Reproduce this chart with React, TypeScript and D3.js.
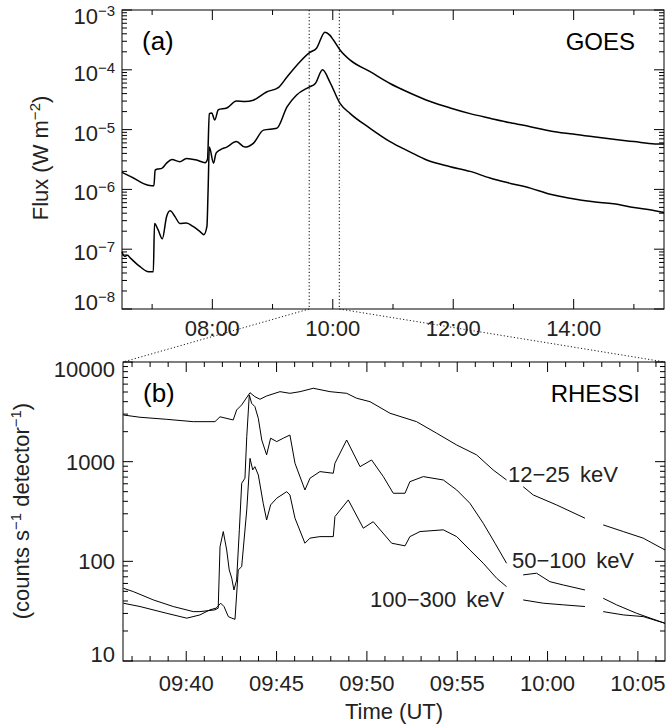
import React from "react";
import * as d3 from "d3";

// GOES 1-8 A (upper) : [hour UT, flux W m^-2]
const goesLong: [number, number][] = [
  [6.5, 1.93e-6], [6.69, 1.55e-6], [6.85, 1.26e-6], [6.99, 1.15e-6], [7.03, 1.15e-6],
  [7.05, 2.1e-6], [7.1, 2.2e-6], [7.16, 2.25e-6], [7.24, 2.75e-6], [7.33, 3.15e-6],
  [7.46, 2.9e-6], [7.57, 3.3e-6], [7.74, 3.1e-6], [7.88, 2.8e-6], [7.92, 3.2e-6],
  [7.95, 1.85e-5], [7.99, 1.9e-5], [8.04, 1.45e-5], [8.1, 2.15e-5], [8.24, 2.3e-5],
  [8.4, 3.0e-5], [8.54, 2.95e-5], [8.68, 3.1e-5], [8.9, 4.25e-5], [9.1, 5.1e-5],
  [9.24, 7.6e-5], [9.46, 1.38e-4], [9.62, 1.95e-4], [9.73, 2.3e-4], [9.87, 4.25e-4],
  [9.95, 3.8e-4], [10.01, 3.15e-4], [10.12, 2.15e-4], [10.29, 1.45e-4], [10.62, 9.3e-5],
  [10.95, 5.9e-5], [11.28, 4.1e-5], [11.62, 2.95e-5], [11.95, 2.3e-5], [12.28, 1.85e-5],
  [12.61, 1.55e-5], [12.95, 1.3e-5], [13.28, 1.12e-5], [13.61, 9.5e-6], [13.94, 8.5e-6],
  [14.33, 7.6e-6], [14.66, 6.9e-6], [15.0, 6.3e-6], [15.35, 5.75e-6], [15.5, 5.75e-6],
];

// GOES 0.5-4 A (lower)
const goesShort: [number, number][] = [
  [6.5, 9.1e-8], [6.54, 7.6e-8], [6.59, 7.9e-8], [6.64, 7.1e-8], [6.8, 5.1e-8],
  [6.94, 4.2e-8], [7.02, 4.2e-8], [7.04, 2.7e-7], [7.1, 2.1e-7], [7.17, 1.5e-7],
  [7.24, 3.5e-7], [7.3, 4.4e-7], [7.38, 3.5e-7], [7.46, 2.7e-7], [7.57, 2.75e-7],
  [7.68, 2.4e-7], [7.8, 1.95e-7], [7.86, 1.75e-7], [7.91, 2.4e-7], [7.93, 1.0e-6],
  [7.95, 5.1e-6], [8.02, 2.75e-6], [8.06, 4.0e-6], [8.13, 4.6e-6], [8.24, 5.1e-6],
  [8.4, 6.3e-6], [8.54, 5.1e-6], [8.68, 5.9e-6], [8.85, 9.8e-6], [9.07, 1.05e-5],
  [9.24, 2.4e-5], [9.4, 3.8e-5], [9.6, 5.1e-5], [9.71, 5.9e-5], [9.83, 1.0e-4],
  [9.95, 6.3e-5], [10.12, 2.75e-5], [10.29, 1.85e-5], [10.62, 1.05e-5], [10.95, 6.3e-6],
  [11.28, 4.25e-6], [11.56, 3.1e-6], [11.95, 2.4e-6], [12.28, 2.0e-6], [12.61, 1.55e-6],
  [12.95, 1.26e-6], [13.28, 1.05e-6], [13.61, 8.3e-7], [13.94, 7.1e-7], [14.33, 6.2e-7],
  [14.66, 5.75e-7], [15.0, 5.0e-7], [15.35, 4.4e-7], [15.5, 4.1e-7],
];

// RHESSI : [minutes after 09:00 UT, counts s^-1 detector^-1], null = data gap
const rhessiLow: [number, number | null][] = [
  [36.52, 2940], [37.44, 2790], [38.92, 2660], [40.39, 2520], [41.59, 2520],
  [41.87, 2820], [42.6, 2620], [42.79, 3300], [43.07, 3710], [43.53, 4920],
  [43.8, 4490], [44.08, 4230], [44.45, 4560], [45.19, 5040], [45.74, 4850],
  [46.3, 5040], [47.03, 5450], [47.96, 5040], [48.88, 4850], [49.43, 4330],
  [50.17, 4000], [51.28, 3060], [52.75, 2520], [53.86, 1930], [54.97, 1470],
  [56.07, 1170], [56.99, 826], [57.73, 655], [58.2, null],
  [58.65, 561], [59.21, 463], [60.5, 368], [62.07, 271], [62.6, null],
  [63.08, 232], [64.19, 199], [65.29, 171], [66.5, 130],
];

const rhessiMid: [number, number | null][] = [
  [36.52, 53.7], [37.07, 49.7], [38.18, 41.0], [39.28, 35.2], [40.39, 31.3],
  [40.76, 31.3], [41.59, 32.6], [41.77, 33.9], [41.87, 140], [42.05, 199],
  [42.24, 130], [42.38, 82], [42.52, 67.7], [42.64, 51.6], [42.79, 65],
  [42.94, 207], [43.07, 607], [43.25, 682], [43.35, 1780], [43.49, 4670],
  [43.62, 3850], [43.8, 3570], [43.99, 2720], [44.18, 1650], [44.45, 1170],
  [44.67, 1720], [45.01, 1590], [45.37, 1720], [45.74, 1850], [46.02, 964],
  [46.57, 520], [46.85, 682], [47.4, 795], [48.14, 765], [48.23, 964],
  [48.88, 1650], [49.62, 891], [50.26, 1040], [50.91, 708], [51.46, 482],
  [52.11, 482], [52.38, 630], [53.12, 708], [54.23, 655], [54.97, 520],
  [55.7, 383], [56.44, 241], [57.09, 152], [57.73, 95.7], [58.2, null],
  [58.65, 73.1], [59.39, 76.0], [60.13, 62.5], [60.87, 57.9], [62.07, 51.6], [62.6, null],
  [63.08, 42.6], [63.82, 36.6], [64.93, 30.1], [66.5, 23.9],
];

const rhessiHigh: [number, number | null][] = [
  [36.52, 38.0], [37.44, 35.2], [38.92, 30.1], [40.03, 26.9], [40.76, 29.0],
  [41.31, 32.6], [41.65, 33.9], [41.91, 38.0], [42.09, 35.2], [42.33, 27.9],
  [42.52, 26.9], [42.7, 26.2], [42.88, 82], [43.07, 88.5], [43.35, 328],
  [43.53, 1080], [43.68, 826], [43.8, 891], [43.99, 736], [44.26, 383],
  [44.45, 260], [44.67, 368], [45.01, 430], [45.56, 500], [45.74, 463],
  [46.02, 271], [46.57, 152], [46.85, 171], [47.4, 177], [48.14, 177],
  [48.23, 281], [48.97, 413], [49.8, 215], [50.35, 250], [51.37, 152],
  [52.11, 143], [52.38, 177], [52.94, 199], [54.23, 207], [54.97, 177],
  [55.7, 130], [56.44, 95.7], [57.18, 67.7], [57.73, 55.7], [58.2, null],
  [58.65, 41.0], [59.76, 38.0], [60.87, 36.6], [62.07, 35.2], [62.6, null],
  [63.08, 31.3], [64.19, 29.0], [65.29, 27.9], [66.5, 23.9],
];

const goesHourTicks = [7, 8, 9, 10, 11, 12, 13, 14, 15];
const goesHourLabels = ["08:00", "10:00", "12:00", "14:00"];
const goesDecades = [-8, -7, -6, -5, -4, -3];
const rhessiMinuteLabels = ["09:40", "09:45", "09:50", "09:55", "10:00", "10:05"];
const rhessiDecades = ["10", "100", "1000", "10000"];
const zoomWindow = [36.5, 66.5]; // minutes after 09:00 shown in panel (b)

const bandLabels = [
  { text: "12\u221225 keV", x: 508, y: 482 },
  { text: "50\u2212100 keV", x: 512, y: 568 },
  { text: "100\u2212300 keV", x: 370, y: 607 },
];

const FONT = "'Liberation Sans', Arial, Helvetica, sans-serif";
const INK = "#222";

function hm(s: string) {
  const [h, m] = s.split(":").map(Number);
  return h + m / 60;
}

export default function App() {
  const W = 668, H = 726;
  const A = { l: 122, r: 664, t: 10, b: 309 };
  const B = { l: 123, r: 665, t: 362, b: 661 };

  const xa = d3.scaleLinear().domain([6.5, 15.5]).range([A.l, A.r]);
  const ya = d3.scaleLog().domain([1e-8, 1e-3]).range([A.b, A.t]);
  const xb = d3.scaleLinear().domain(zoomWindow).range([B.l, B.r]);
  const yb = d3.scaleLog().domain([10, 10000]).range([B.b, B.t]);

  const lineA = d3.line<[number, number]>()
    .x(d => xa(d[0])).y(d => ya(d[1]))
    .curve(d3.curveMonotoneX);
  const lineB = d3.line<[number, number | null]>()
    .defined(d => d[1] != null)
    .x(d => xb(d[0])).y(d => yb(d[1] as number));

  const ticks: JSX.Element[] = [];
  const tk = (k: string, x1: number, y1: number, x2: number, y2: number) =>
    ticks.push(<line key={k} x1={x1} y1={y1} x2={x2} y2={y2} stroke="#000" strokeWidth={1} />);

  // panel a x ticks
  goesHourTicks.forEach(h => {
    const x = xa(h);
    const len = h % 2 === 0 ? 10 : 5;
    tk(`ab${h}`, x, A.b, x, A.b - len);
    tk(`at${h}`, x, A.t, x, A.t + len);
  });
  // panel a y ticks (log)
  goesDecades.forEach(e => {
    for (let k = 1; k <= 9; k++) {
      if (e === -3 && k > 1) continue;
      const y = ya(k * Math.pow(10, e));
      const len = k === 1 ? 10 : 5;
      tk(`al${e}${k}`, A.l, y, A.l + len, y);
      tk(`ar${e}${k}`, A.r, y, A.r - len, y);
    }
  });
  // panel b x ticks
  for (let m = 37; m <= 66; m++) {
    const x = xb(m);
    const len = m % 5 === 0 ? 10 : 5;
    tk(`bb${m}`, x, B.b, x, B.b - len);
    tk(`bt${m}`, x, B.t, x, B.t + len);
  }
  // panel b y ticks
  [1, 2, 3].forEach(e => {
    for (let k = 1; k <= 9; k++) {
      const y = yb(k * Math.pow(10, e));
      const len = k === 1 ? 10 : 5;
      tk(`bl${e}${k}`, B.l, y, B.l + len, y);
      tk(`br${e}${k}`, B.r, y, B.r - len, y);
    }
  });
  tk("bl4", B.l, yb(10000), B.l + 10, yb(10000));
  tk("br4", B.r, yb(10000), B.r - 10, yb(10000));

  const dot = "1.2,2.2";
  const t1 = xa(9 + zoomWindow[0] / 60);
  const t2 = xa(9 + zoomWindow[1] / 60);

  return (
    <svg width={W} height={H} style={{ position: "absolute", left: 0, top: 0, background: "#fff" }}
      fontFamily={FONT}>
      <rect x={0} y={0} width={W} height={H} fill="#fff" />

      {/* panel (a) */}
      <line x1={t1} y1={A.t} x2={t1} y2={A.b} stroke="#000" strokeDasharray={dot} />
      <line x1={t2} y1={A.t} x2={t2} y2={A.b} stroke="#000" strokeDasharray={dot} />
      <path d={lineA(goesLong) || ""} fill="none" stroke="#000" strokeWidth={1.5} />
      <path d={lineA(goesShort) || ""} fill="none" stroke="#000" strokeWidth={1.5} />

      {/* zoom connectors */}
      <line x1={t1} y1={A.b} x2={B.l} y2={B.t} stroke="#000" strokeDasharray={dot} strokeWidth={0.9} />
      <line x1={t2} y1={A.b} x2={B.r} y2={B.t} stroke="#000" strokeDasharray={dot} strokeWidth={0.9} />

      {/* panel (b) */}
      <path d={lineB(rhessiLow) || ""} fill="none" stroke="#000" strokeWidth={1} />
      <path d={lineB(rhessiMid) || ""} fill="none" stroke="#000" strokeWidth={1} />
      <path d={lineB(rhessiHigh) || ""} fill="none" stroke="#000" strokeWidth={1} />

      {ticks}
      <rect x={A.l} y={A.t} width={A.r - A.l} height={A.b - A.t} fill="none" stroke="#000" strokeWidth={1} />
      <rect x={B.l} y={B.t} width={B.r - B.l} height={B.b - B.t} fill="none" stroke="#000" strokeWidth={1} />

      {/* panel (a) labels */}
      {goesDecades.map(e => {
        const y = Math.min(Math.max(ya(Math.pow(10, e)) + 11, 24), 310);
        return (
          <text key={`yl${e}`} x={115} y={y} textAnchor="end" fontSize={22} fill={INK}>
            10<tspan dy={-8} fontSize={15}>{`\u2212${-e}`}</tspan>
          </text>
        );
      })}
      {goesHourLabels.map(s => (
        <text key={s} x={xa(hm(s))} y={336} textAnchor="middle" fontSize={22} fill={INK}>{s}</text>
      ))}
      <text transform="translate(48,158) rotate(-90)" textAnchor="middle" fontSize={22} fill={INK}>
        Flux (W m<tspan dy={-8} fontSize={15}>{"\u22122"}</tspan><tspan dy={8}>)</tspan>
      </text>
      <text x={142} y={50} fontSize={26}>(a)</text>
      <text x={635} y={50} fontSize={24} textAnchor="end">GOES</text>

      {/* panel (b) labels */}
      {rhessiDecades.map(s => {
        const y = Math.min(Math.max(yb(+s) + 8, 377), 662);
        return (
          <text key={s} x={115} y={y} textAnchor="end" fontSize={22} fill={INK}>{s}</text>
        );
      })}
      {rhessiMinuteLabels.map(s => (
        <text key={s} x={xb((hm(s) - 9) * 60)} y={691} textAnchor="middle" fontSize={22} fill={INK}>{s}</text>
      ))}
      <text x={(B.l + B.r) / 2} y={719} textAnchor="middle" fontSize={22} fill={INK}>Time (UT)</text>
      <text transform="translate(29,511) rotate(-90)" textAnchor="middle" fontSize={22} fill={INK}>
        (counts s<tspan dy={-8} fontSize={15}>{"\u22121"}</tspan>
        <tspan dy={8}>{" detector"}</tspan><tspan dy={-8} fontSize={15}>{"\u22121"}</tspan>
        <tspan dy={8}>)</tspan>
      </text>
      <text x={143} y={402} fontSize={26}>(b)</text>
      <text x={640} y={402} fontSize={24} textAnchor="end">RHESSI</text>
      {bandLabels.map(b => (
        <text key={b.text} x={b.x} y={b.y} fontSize={22} fill={INK} wordSpacing={4}>{b.text}</text>
      ))}
    </svg>
  );
}
